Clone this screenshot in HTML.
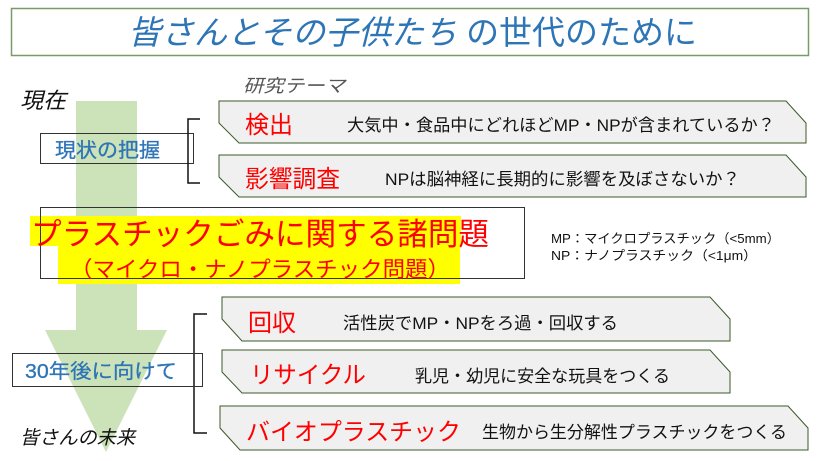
<!DOCTYPE html>
<html><head><meta charset="utf-8"><style>
html,body{margin:0;padding:0;background:#fff;}
svg{display:block;}
text{font-family:"Liberation Sans","Noto Sans CJK JP",sans-serif;}
</style></head><body>
<svg width="818" height="461" viewBox="0 0 818 461" xmlns="http://www.w3.org/2000/svg">
<rect x="11.5" y="8.5" width="797" height="47" fill="#fff" stroke="#7a9a6a" stroke-width="1.5"/>
<text x="128" y="44" font-size="33" fill="#2e75b6" font-style="italic" textLength="569" lengthAdjust="spacingAndGlyphs">皆さんとその子供たち <tspan font-style="normal">の世代のために</tspan></text>
<polygon points="76,101 137,101 137,330 167,330 106,452 45,330 76,330" fill="#c9e0b4" opacity="0.95"/>
<text x="20" y="108" font-size="22" font-style="italic" fill="#111" textLength="46" lengthAdjust="spacingAndGlyphs">現在</text>
<text x="243" y="92" font-size="18" font-style="italic" fill="#555" textLength="102" lengthAdjust="spacingAndGlyphs">研究テーマ</text>
<rect x="40.5" y="133.5" width="153" height="30" fill="none" stroke="#333" stroke-width="1"/>
<text x="55" y="157" font-size="20" fill="#2e75b6" textLength="105" lengthAdjust="spacingAndGlyphs" stroke="#2e75b6" stroke-width="0.3">現状の把握</text>
<path d="M200,119 H188 V183 H200" fill="none" stroke="#111" stroke-width="1.5"/>
<g fill="#f0f0f0" stroke="#3d5a2a" stroke-width="1">
<polygon points="219,101 786,101 806,123 806,143 239,143 219,123"/>
<polygon points="219,155 786,155 806,177 806,197 239,197 219,177"/>
<polygon points="222,297 710,297 730,319 730,341 242,341 222,319"/>
<polygon points="222,350 710,350 730,372 730,393 242,393 222,372"/>
<polygon points="220,406 788,406 808,428 808,450 240,450 220,428"/>
</g>
<text x="245" y="133" font-size="24" fill="#ff0000" textLength="48" lengthAdjust="spacingAndGlyphs">検出</text>
<text x="347" y="131" font-size="17" fill="#111" textLength="428" lengthAdjust="spacingAndGlyphs">大気中・食品中にどれほどMP・NPが含まれているか？</text>
<text x="245" y="187" font-size="24" fill="#ff0000" textLength="95" lengthAdjust="spacingAndGlyphs">影響調査</text>
<text x="385" y="185" font-size="17" fill="#111" textLength="355" lengthAdjust="spacingAndGlyphs">NPは脳神経に長期的に影響を及ぼさないか？</text>
<rect x="30" y="216" width="431" height="30" fill="#ffff00"/>
<rect x="58" y="246" width="402" height="38" fill="#ffff00"/>
<rect x="40.5" y="207.5" width="484" height="71" fill="none" stroke="#333" stroke-width="1"/>
<text x="31" y="245" font-size="31" fill="#ff0000" textLength="458" lengthAdjust="spacingAndGlyphs">プラスチックごみに関する諸問題</text>
<text x="70" y="277" font-size="22" fill="#ff0000" textLength="380" lengthAdjust="spacingAndGlyphs">（マイクロ・ナノプラスチック問題）</text>
<text x="551" y="243" font-size="13" fill="#111" textLength="229" lengthAdjust="spacingAndGlyphs">MP：マイクロプラスチック（&lt;5mm）</text>
<text x="551" y="260" font-size="13" fill="#111" textLength="206" lengthAdjust="spacingAndGlyphs">NP：ナノプラスチック（&lt;1μm）</text>
<path d="M207,314 H194 V433 H207" fill="none" stroke="#111" stroke-width="1.5"/>
<rect x="12.5" y="353.5" width="190" height="33" fill="none" stroke="#333" stroke-width="1"/>
<text x="25" y="378" font-size="20" fill="#2e75b6" textLength="152" lengthAdjust="spacingAndGlyphs" stroke="#2e75b6" stroke-width="0.3">30年後に向けて</text>
<text x="20" y="444" font-size="19" font-style="italic" fill="#111" textLength="115" lengthAdjust="spacingAndGlyphs">皆さんの未来</text>
<text x="248" y="331" font-size="24" fill="#ff0000" textLength="48" lengthAdjust="spacingAndGlyphs">回収</text>
<text x="343" y="329" font-size="17" fill="#111" textLength="275" lengthAdjust="spacingAndGlyphs">活性炭でMP・NPをろ過・回収する</text>
<text x="250" y="383" font-size="24" fill="#ff0000" textLength="116" lengthAdjust="spacingAndGlyphs">リサイクル</text>
<text x="415" y="382" font-size="17" fill="#111" textLength="255" lengthAdjust="spacingAndGlyphs">乳児・幼児に安全な玩具をつくる</text>
<text x="246" y="440" font-size="24" fill="#ff0000" textLength="215" lengthAdjust="spacingAndGlyphs">バイオプラスチック</text>
<text x="482" y="438" font-size="17" fill="#111" textLength="305" lengthAdjust="spacingAndGlyphs">生物から生分解性プラスチックをつくる</text>
</svg>
</body></html>
